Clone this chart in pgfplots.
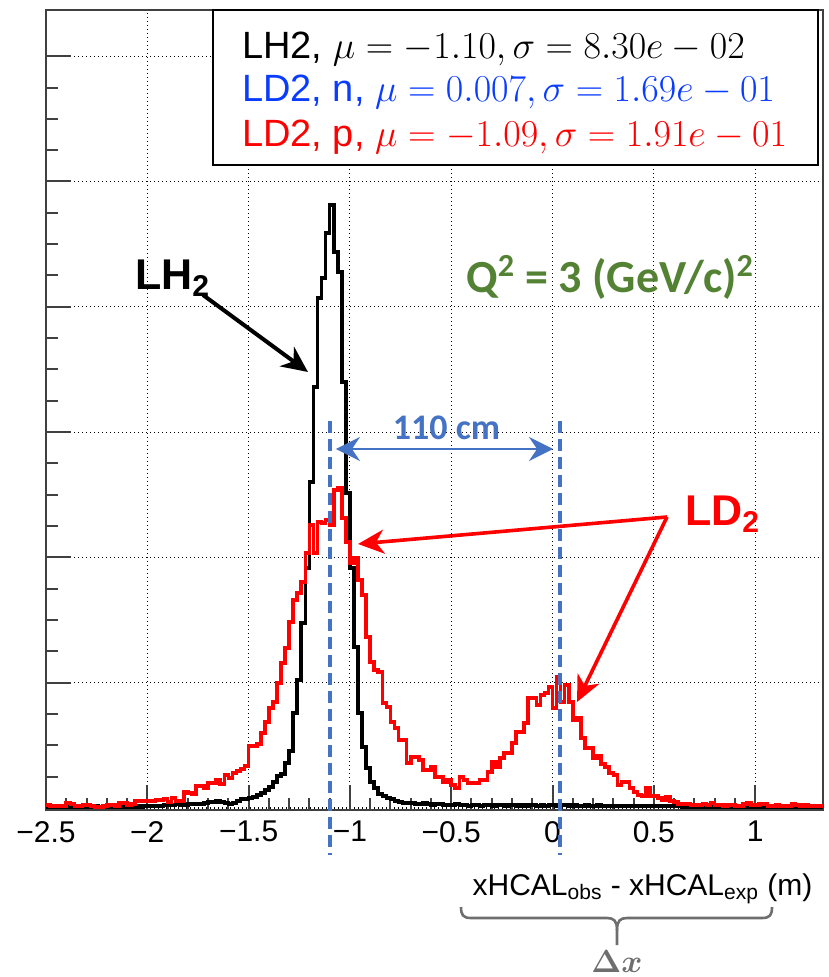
\documentclass[border=0pt]{standalone}
\usepackage{fix-cm}
\usepackage{fontspec}
\setmainfont{Liberation Sans}
\newfontfamily\carlito{Carlito}
\usepackage{pgfplots}
\pgfplotsset{compat=1.18}
\usepackage{pgfplotstable}
\usetikzlibrary{arrows.meta}
\definecolor{ofblue}{HTML}{4472C4}
\definecolor{ofgreen}{HTML}{548235}
\definecolor{legblue}{HTML}{0A3CFF}
\definecolor{hred}{HTML}{FF0000}
\definecolor{bracegray}{HTML}{6E6E6E}

\pgfplotstableread{
x lh2 ld2
-2.50 1 3
-2.48 1 2
-2.46 1 2
-2.44 1 2
-2.42 2 2
-2.40 1 5
-2.38 1 4
-2.36 1 2
-2.34 1 2
-2.32 1 3
-2.30 1 3
-2.28 1 2
-2.26 2 1
-2.24 1 1
-2.22 1 2
-2.20 1 3
-2.18 1 3
-2.16 1 2
-2.14 1 5
-2.12 1 5
-2.10 1 3
-2.08 1 4
-2.06 2 7
-2.04 1 7
-2.02 2 7
-2.00 2 7
-1.98 2 7
-1.96 2 8
-1.94 2 8
-1.92 3 9
-1.90 3 6
-1.88 3 10
-1.86 4 7
-1.84 3 7
-1.82 3 16
-1.80 4 15
-1.78 4 14
-1.76 4 22
-1.74 4 22
-1.72 5 20
-1.70 6 25
-1.68 6 25
-1.66 7 28
-1.64 6 24
-1.62 5 33
-1.60 4 30
-1.58 5 35
-1.56 7 37
-1.54 9 39
-1.52 9 42
-1.50 10 62
-1.48 11 62
-1.46 13 64
-1.44 15 75
-1.42 18 86
-1.40 21 100
-1.38 26 106
-1.36 32 125
-1.34 34 145
-1.32 45 160
-1.30 57 186
-1.28 95 208
-1.26 128 215
-1.24 185 226
-1.22 240 255
-1.20 326 283
-1.18 421 255
-1.16 510 286
-1.14 530 285
-1.12 575 288
-1.10 603 283
-1.08 556 318
-1.06 536 320
-1.04 426 290
-1.02 315 266
-1.00 240 245
-0.98 161 250
-0.96 95 228
-0.94 61 213
-0.92 40 171
-0.90 26 146
-0.88 20 138
-0.86 14 136
-0.84 12 105
-0.82 10 101
-0.80 9 86
-0.78 7 80
-0.76 6 68
-0.74 5 68
-0.72 5 45
-0.70 5 51
-0.68 4 51
-0.66 4 48
-0.64 5 38
-0.62 4 38
-0.60 3 41
-0.58 4 31
-0.56 4 31
-0.54 3 26
-0.52 3 28
-0.50 3 23
-0.48 4 20
-0.46 3 31
-0.44 3 28
-0.42 2 25
-0.40 3 25
-0.38 3 25
-0.36 2 28
-0.34 3 28
-0.32 3 36
-0.30 2 46
-0.28 3 41
-0.26 3 50
-0.24 2 55
-0.22 3 55
-0.20 3 65
-0.18 2 76
-0.16 3 76
-0.14 2 85
-0.12 3 110
-0.10 3 110
-0.08 2 103
-0.06 3 113
-0.04 2 115
-0.02 3 121
0.00 3 100
0.02 2 131
0.04 3 106
0.06 3 123
0.08 2 106
0.10 3 88
0.12 2 90
0.14 2 70
0.16 3 60
0.18 2 60
0.20 2 50
0.22 3 52
0.24 2 44
0.26 2 41
0.28 2 35
0.30 2 33
0.32 2 23
0.34 2 26
0.36 2 26
0.38 2 20
0.40 2 16
0.42 2 13
0.44 2 12
0.46 2 20
0.48 2 12
0.50 2 12
0.52 2 10
0.54 2 8
0.56 2 11
0.58 2 7
0.60 2 6
0.62 2 4
0.64 1 4
0.66 1 4
0.68 1 3
0.70 1 3
0.72 1 3
0.74 1 4
0.76 1 3
0.78 1 5
0.80 1 3
0.82 1 3
0.84 1 2
0.86 1 3
0.88 1 3
0.90 1 2
0.92 1 2
0.94 1 4
0.96 1 5
0.98 1 3
1.00 1 3
1.02 1 4
1.04 1 4
1.06 1 2
1.08 1 2
1.10 1 3
1.12 1 2
1.14 1 2
1.16 1 2
1.18 1 4
1.20 1 3
1.22 1 2
1.24 1 3
1.26 1 2
1.28 1 2
1.30 1 2
1.32 1 2
1.335 1 2
}\hist

\begin{document}
\begin{tikzpicture}
\path[use as bounding box] (-23pt,-83.5pt) rectangle (391pt,405pt);
\begin{axis}[
  at={(0,0)}, anchor=south west,
  scale only axis, width=388.5pt, height=400pt,
  xmin=-2.5, xmax=1.335, ymin=-2, ymax=798,
  xtick={-2.5,-2,-1.5,-1,-0.5,0,0.5,1},
  xticklabels={−2.5,−2,−1.5,−1,−0.5,0,0.5,1},
  minor x tick num=4,
  ytick={0,125.3,250.6,375.9,501.2,626.5,751.8},
  yticklabels={},
  minor y tick num=3,
  xtick pos=bottom, ytick pos=left,
  tick align=inside,
  major tick length=12.5pt, minor tick length=6pt,
  grid=major,
  major grid style={black, line width=0.55pt, dash pattern=on 0.55pt off 1.45pt},
  axis line style={line width=1pt, black!75},
  every tick/.style={line width=1pt, black!75},
  xticklabel style={font=\fontsize{15}{18}\selectfont, yshift=-2pt},
  clip=false,
]
\addplot[const plot mark left, black, line width=1.8pt] table[x=x, y=lh2] {\hist};
\addplot[const plot mark left, hred, line width=1.8pt] table[x=x, y=ld2] {\hist};

% dashed guide lines
\draw[ofblue, line width=2pt, dash pattern=on 6pt off 3pt] (axis cs:-1.098,387) -- (axis cs:-1.098,-47);
\draw[ofblue, line width=2pt, dash pattern=on 6pt off 3pt] (axis cs:0.037,387) -- (axis cs:0.037,-47);
\draw[ofblue, line width=1.4pt, {Stealth[length=12pt,width=12pt,inset=4pt]}-{Stealth[length=12pt,width=12pt,inset=4pt]}] (axis cs:-1.069,359) -- (axis cs:0.0025,359);
\node[anchor=base, text=ofblue, font=\carlito\bfseries\fontsize{18}{20}\selectfont] at (axis cs:-0.523,368) {110 cm};

% LH2 label and arrow
\node[anchor=base west, font=\bfseries\fontsize{21.5}{24}\selectfont] at (axis cs:-2.095,518) {LH\textsubscript{2}};
\draw[black, line width=2pt, -{Stealth[length=13pt,width=12pt,inset=4pt]}] (axis cs:-1.725,513) -- (axis cs:-1.207,436);

% LD2 label and arrows
\node[anchor=base west, text=hred, font=\bfseries\fontsize{21.5}{24}\selectfont] at (axis cs:0.619,282) {LD\textsubscript{2}};
\draw[hred, line width=1.8pt, -{Stealth[length=13pt,width=12pt,inset=4pt]}] (axis cs:0.565,291) -- (axis cs:-0.960,264);
\draw[hred, line width=1.8pt, -{Stealth[length=13pt,width=12pt,inset=4pt]}] (axis cs:0.565,291) -- (axis cs:0.121,106);

% Q2 label
\node[anchor=base, text=ofgreen, font=\carlito\bfseries\fontsize{23}{26}\selectfont] at (axis cs:0.284,515) {Q\textsuperscript{2} = 3 (GeV/c)\textsuperscript{2}};

% legend box
\draw[black, line width=1.2pt, fill=white] (axis cs:-1.676,643) rectangle (axis cs:1.310,798);
\node[anchor=base west, text=black, font=\fontsize{19}{22}\selectfont] at (axis cs:-1.567,749.7) {LH2, $\mu = -1.10, \sigma = 8.30e-02$};
\node[anchor=base west, text=legblue, font=\fontsize{19}{22}\selectfont] at (axis cs:-1.567,706.3) {LD2, n, $\mu = 0.007, \sigma = 1.69e-01$};
\node[anchor=base west, text=hred, font=\fontsize{19}{22}\selectfont] at (axis cs:-1.567,661.3) {LD2, p, $\mu = -1.09, \sigma = 1.91e-01$};

% x label
\node[anchor=base, font=\fontsize{15}{18}\selectfont] at (axis cs:0.444,-87) {xHCAL\textsubscript{obs} - xHCAL\textsubscript{exp} (m)};
\end{axis}

% brace and Delta x (pixel-based scope)
\begin{scope}[x=0.5pt, y=-0.5pt, shift={(-23pt,405pt)}]
\draw[bracegray, line width=1.3pt]
  (461,907) .. controls (461,915) and (463,918) .. (471,918) -- (607,918)
  .. controls (614,918) and (617,921) .. (617,930) -- (617,945);
\draw[bracegray, line width=1.3pt]
  (772,907) .. controls (772,915) and (770,918) .. (762,918) -- (627,918)
  .. controls (620,918) and (617,921) .. (617,930);
\node[text=bracegray, font=\fontsize{16}{18}\selectfont\boldmath] at (617,962) {$\Delta x$};
\end{scope}
\end{tikzpicture}
\end{document}
